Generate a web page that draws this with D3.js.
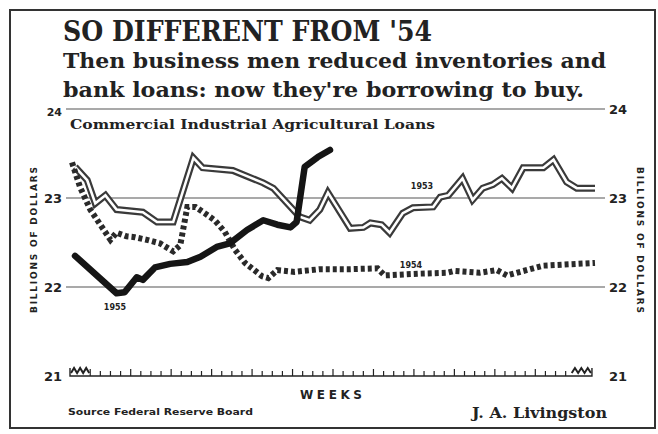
<!DOCTYPE html>
<html>
<head>
<meta charset="utf-8">
<script src="https://cdn.jsdelivr.net/npm/d3@7"></script>
<style>
  body { margin: 0; background: #fff; }
  svg { display: block; }
</style>
</head>
<body>
<div id="vis"></div>
<script>
// frame size
const FRAME_WIDTH = 658
const FRAME_HEIGHT = 434
const PLOT = {left: 70, right: 596, top: 109, bottom: 376}

// data: week position and loans (billions of dollars)
const weeks53 = [1.5, 2.7, 3.5, 4.5, 5.6, 8.2, 9.6, 11.2, 13.2, 14.1, 17.1, 20.1, 21.1, 23.7, 24.7,
                 25.7, 26.5, 28.7, 30.0, 30.7, 31.8, 32.6, 33.9, 34.9, 36.9, 37.6, 38.4, 39.8, 40.8,
                 41.8, 42.8, 43.7, 44.7, 45.8, 47.8, 48.8, 50.1, 51.1, 52.9]
const loans53 = [23.35, 23.20, 22.94, 23.03, 22.87, 22.84, 22.73, 22.73, 23.45, 23.34, 23.31, 23.17, 23.11, 22.79, 22.75,
                 22.87, 23.06, 22.66, 22.67, 22.72, 22.70, 22.61, 22.83, 22.89, 22.90, 23.01, 23.03, 23.22, 22.98,
                 23.11, 23.15, 23.22, 23.11, 23.34, 23.34, 23.43, 23.18, 23.11, 23.11]

const weeks54 = [1.2, 2.0, 3.0, 4.0, 5.0, 5.6, 6.6, 7.4, 8.6, 9.9, 11.2, 11.9, 12.6, 13.4, 14.3, 15.3, 16.3,
                 17.3, 18.3, 20.0, 20.6, 21.5, 23.2, 25.7, 28.7, 31.4, 32.1, 35.6, 38.3, 39.0, 41.5,
                 43.2, 44.2, 46.8, 47.8, 52.9]
const loans54 = [23.40, 23.12, 22.87, 22.70, 22.53, 22.61, 22.57, 22.56, 22.53, 22.49, 22.40, 22.47, 22.90, 22.90, 22.83, 22.75, 22.62,
                 22.42, 22.27, 22.12, 22.10, 22.19, 22.17, 22.20, 22.20, 22.21, 22.13, 22.15, 22.16, 22.18, 22.16,
                 22.19, 22.13, 22.21, 22.24, 22.27]

const weeks55 = [1.5, 5.6, 6.4, 7.6, 8.2, 9.4, 10.9, 12.6, 13.9, 15.5, 16.8, 18.5, 20.1, 21.5, 22.8, 23.4,
                 24.2, 25.5, 26.7]
const loans55 = [22.35, 21.93, 21.94, 22.11, 22.08, 22.22, 22.26, 22.28, 22.34, 22.45, 22.49, 22.64, 22.75, 22.70, 22.67, 22.73,
                 23.35, 23.46, 23.54]

const yTicks = [21, 22, 23, 24]
const gridValues = [22, 23, 24]

const SERIF = "'DejaVu Serif', serif"
const SANS = "'DejaVu Sans', sans-serif"
const INK = "#222"

const svg = d3.select('#vis')
              .append('svg')
              .attr('width', FRAME_WIDTH)
              .attr('height', FRAME_HEIGHT)

// scales
const x = d3.scaleLinear().domain([1, 53]).range([PLOT.left, PLOT.right])
const y = d3.scaleLinear().domain([21, 24]).range([PLOT.bottom, PLOT.top])

// border box
svg.append('rect')
   .attr('x', 10).attr('y', 10)
   .attr('width', 645).attr('height', 418)
   .attr('fill', 'none')
   .attr('stroke', '#333')
   .attr('stroke-width', 2)

// headline
svg.append('text')
   .attr('x', 63).attr('y', 41)
   .attr('font-family', SERIF)
   .attr('font-weight', 'bold')
   .attr('font-size', 27)
   .attr('fill', INK)
   .attr('textLength', 369)
   .attr('lengthAdjust', 'spacingAndGlyphs')
   .text("SO DIFFERENT FROM '54")

svg.append('text')
   .attr('x', 63).attr('y', 68)
   .attr('font-family', SERIF)
   .attr('font-weight', 'bold')
   .attr('font-size', 20)
   .attr('fill', INK)
   .attr('textLength', 543)
   .attr('lengthAdjust', 'spacingAndGlyphs')
   .text('Then business men reduced inventories and')

svg.append('text')
   .attr('x', 63).attr('y', 97)
   .attr('font-family', SERIF)
   .attr('font-weight', 'bold')
   .attr('font-size', 20)
   .attr('fill', INK)
   .attr('textLength', 521)
   .attr('lengthAdjust', 'spacingAndGlyphs')
   .text("bank loans: now they're borrowing to buy.")

// grid lines
svg.selectAll('.grid')
   .data(gridValues)
   .enter()
   .append('line')
   .attr('class', 'grid')
   .attr('x1', 66).attr('x2', 605)
   .attr('y1', d => y(d)).attr('y2', d => y(d))
   .attr('stroke', '#555')
   .attr('stroke-width', 1.2)

// y axes, both sides
const left = svg.append('g')
   .attr('transform', 'translate(' + 66 + ',0)')
   .call(d3.axisLeft(y).tickValues(yTicks).tickSize(0).tickPadding(4).tickFormat(d3.format('d')))
const right = svg.append('g')
   .attr('transform', 'translate(' + 605 + ',0)')
   .call(d3.axisRight(y).tickValues(yTicks).tickSize(0).tickPadding(4).tickFormat(d3.format('d')))
;[left, right].forEach(g => {
  g.select('.domain').remove()
  g.selectAll('text')
   .attr('font-family', SANS)
   .attr('font-weight', 'bold')
   .attr('font-size', 13)
   .attr('fill', INK)
})
left.selectAll('.tick').filter(d => d === 24).select('text').attr('font-size', 11).attr('dy', '0.55em')

// rotated unit labels
svg.append('text')
   .attr('transform', 'translate(37,240) rotate(-90)')
   .attr('text-anchor', 'middle')
   .attr('font-family', SANS)
   .attr('font-weight', 'bold')
   .attr('font-size', 9)
   .attr('fill', INK)
   .attr('textLength', 146)
   .text('BILLIONS OF DOLLARS')

svg.append('text')
   .attr('transform', 'translate(637,240) rotate(90)')
   .attr('text-anchor', 'middle')
   .attr('font-family', SANS)
   .attr('font-weight', 'bold')
   .attr('font-size', 9)
   .attr('fill', INK)
   .attr('textLength', 146)
   .text('BILLIONS OF DOLLARS')

// chart caption under the 24 line
svg.append('text')
   .attr('x', 70).attr('y', 129)
   .attr('font-family', SERIF)
   .attr('font-weight', 'bold')
   .attr('font-size', 12)
   .attr('fill', INK)
   .attr('textLength', 365)
   .attr('lengthAdjust', 'spacingAndGlyphs')
   .text('Commercial  Industrial  Agricultural  Loans')

// weeks axis along the bottom
const weekTicks = d3.range(3, 51)
const axisG = svg.append('g')
svg.append('path')
   .attr('d', 'M' + x(1) + ',' + (PLOT.bottom - 8) + 'V' + PLOT.bottom + 'H' + x(52.6) + 'V' + (PLOT.bottom - 8))
   .attr('fill', 'none').attr('stroke', INK).attr('stroke-width', 1.4)
axisG.selectAll('line')
   .data(weekTicks)
   .enter()
   .append('line')
   .attr('x1', d => x(d)).attr('x2', d => x(d))
   .attr('y1', PLOT.bottom).attr('y2', (d, i) => PLOT.bottom - (i % 4 === 0 ? 7 : 5))
   .attr('stroke', INK)
   .attr('stroke-width', 1.2)

// zigzag break marks at both ends of the weeks axis
function zig(w0, w1) {
  const pts = d3.range(0, 7).map(i => [x(w0 + (w1 - w0) * i / 6), PLOT.bottom - (i % 2 ? 8 : 3)])
  return d3.line()(pts)
}
svg.append('path').attr('d', zig(1.1, 2.9))
   .attr('fill', 'none').attr('stroke', INK).attr('stroke-width', 2)
svg.append('path').attr('d', zig(50.6, 52.5))
   .attr('fill', 'none').attr('stroke', INK).attr('stroke-width', 2)

svg.append('text')
   .attr('x', 331).attr('y', 399)
   .attr('text-anchor', 'middle')
   .attr('font-family', SANS)
   .attr('font-weight', 'bold')
   .attr('font-size', 12)
   .attr('fill', INK)
   .attr('textLength', 62)
   .text('WEEKS')

// series lines
const line = d3.line().x(d => x(d[0])).y(d => y(d[1]))
const s53 = d3.zip(weeks53, loans53)
const s54 = d3.zip(weeks54, loans54)
const s55 = d3.zip(weeks55, loans55)

// 1953: hollow double line
svg.append('path').datum(s53).attr('d', line)
   .attr('fill', 'none').attr('stroke', '#3a3a3a').attr('stroke-width', 7)
   .attr('stroke-linejoin', 'miter')
svg.append('path').datum(s53).attr('d', line)
   .attr('fill', 'none').attr('stroke', '#fff').attr('stroke-width', 2.6)
   .attr('stroke-linejoin', 'miter')

// 1954: heavy dotted line
svg.append('path').datum(s54).attr('d', line)
   .attr('fill', 'none').attr('stroke', '#2a2a2a').attr('stroke-width', 6)
   .attr('stroke-dasharray', '4 3')

// 1955: heavy solid line
svg.append('path').datum(s55).attr('d', line)
   .attr('fill', 'none').attr('stroke', '#151515').attr('stroke-width', 6.5)
   .attr('stroke-linejoin', 'round').attr('stroke-linecap', 'round')

// year labels
const yearLabels = [['1953', 422, 189], ['1954', 411, 268], ['1955', 115, 310]]
svg.selectAll('.year')
   .data(yearLabels)
   .enter()
   .append('text')
   .attr('class', 'year')
   .attr('x', d => d[1]).attr('y', d => d[2])
   .attr('text-anchor', 'middle')
   .attr('font-family', SANS)
   .attr('font-weight', 'bold')
   .attr('font-size', 8)
   .attr('fill', INK)
   .text(d => d[0])

// footer
svg.append('text')
   .attr('x', 68).attr('y', 415)
   .attr('font-family', SANS)
   .attr('font-weight', 'bold')
   .attr('font-size', 9)
   .attr('fill', INK)
   .attr('textLength', 185)
   .attr('lengthAdjust', 'spacingAndGlyphs')
   .text('Source Federal Reserve Board')

svg.append('text')
   .attr('x', 472).attr('y', 418)
   .attr('font-family', SERIF)
   .attr('font-weight', 'bold')
   .attr('font-size', 14)
   .attr('fill', INK)
   .attr('textLength', 135)
   .attr('lengthAdjust', 'spacingAndGlyphs')
   .text('J. A. Livingston')
</script>
</body>
</html>
